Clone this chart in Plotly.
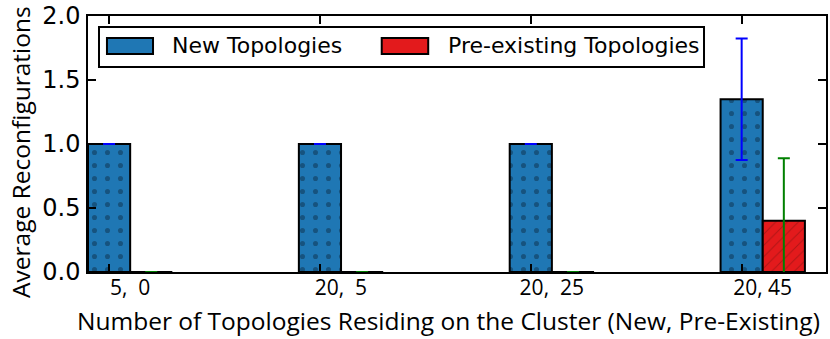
import numpy as np
import plotly.graph_objects as go

# cluster mix: (new, pre-existing) topologies
labels = ["5,\u00a0\u00a00", "20,\u00a0\u00a05", "20,\u00a0\u00a025", "20,\u00a045"]
new_avg = [1.0, 1.0, 1.0, 1.35]
new_err = [0.0, 0.0, 0.0, 0.475]
pre_avg = [0.0, 0.0, 0.0, 0.40]
pre_err = [0.0, 0.0, 0.0, 0.488]

width = 0.2
ind = np.arange(len(labels))

fig = go.Figure()
fig.add_trace(go.Bar(
    x=ind + width / 2, y=new_avg, width=width, name="New Topologies",
    marker=dict(color="#1f77b4", line=dict(color="black", width=2),
                pattern=dict(shape=".", fgcolor="#0d2f4a", size=13, solidity=0.12)),
    error_y=dict(type="data", array=new_err, color="blue", thickness=2, width=6),
    showlegend=False))
fig.add_trace(go.Bar(
    x=ind + 3 * width / 2, y=pre_avg, width=width, name="Pre-existing Topologies",
    marker=dict(color="#e31a1c", line=dict(color="black", width=2),
                pattern=dict(shape="/", fgcolor="#7a1010", size=8, solidity=0.12)),
    error_y=dict(type="data", array=pre_err, color="green", thickness=2, width=6),
    showlegend=False))

tick_font = dict(family="DejaVu Sans", size=24, color="black")
title_font = dict(family="Open Sans", size=24.5, color="black")

fig.update_layout(
    width=830, height=339,
    margin=dict(l=88, r=4, t=16, b=67),
    paper_bgcolor="white", plot_bgcolor="white",
    barmode="overlay",
    xaxis=dict(range=[0, 3.5], tickvals=ind + width / 2, ticktext=labels,
               ticks="inside", ticklen=8, tickwidth=1.5, tickcolor="black",
               ticklabelshift=21, ticklabelstandoff=-4,
               showline=True, linewidth=1.5, linecolor="black", mirror="ticks",
               showgrid=False, zeroline=False, automargin=False,
               tickfont=dict(family="Open Sans", size=21, color="black")),
    yaxis=dict(range=[0, 2.0], tickvals=[0, 0.5, 1.0, 1.5, 2.0], tickformat=".1f",
               ticks="inside", ticklen=8, tickwidth=1.5, tickcolor="black",
               showline=True, linewidth=1.5, linecolor="black", mirror="ticks",
               showgrid=False, zeroline=False, tickfont=tick_font, automargin=False,
               ticklabelstandoff=1),
)

# axis titles (placed like the original, slightly off-centre)
fig.add_annotation(x=0.489, y=-0.19, xref="paper", yref="paper", showarrow=False,
                   text="Number of Topologies Residing on the Cluster (New, Pre-Existing)",
                   xanchor="center", yanchor="middle", font=title_font)
fig.add_annotation(x=-0.0908, y=0.469, xref="paper", yref="paper", showarrow=False,
                   text="Average Reconfigurations", textangle=-90,
                   xanchor="center", yanchor="middle", font=title_font)

# legend drawn as a matplotlib-style box
fig.add_shape(type="rect", xref="paper", yref="paper", x0=0.0149, x1=0.8347, y0=0.801, y1=0.957,
              line=dict(color="black", width=2), fillcolor="white", layer="above")
fig.add_shape(type="rect", xref="paper", yref="paper", x0=0.0257, x1=0.0881, y0=0.852, y1=0.914,
              line=dict(color="black", width=2), fillcolor="#1f77b4", layer="above")
fig.add_shape(type="rect", xref="paper", yref="paper", x0=0.398, x1=0.461, y0=0.852, y1=0.914,
              line=dict(color="black", width=2), fillcolor="#e31a1c", layer="above")
for xp, txt in [(0.111, "New Topologies"), (0.485, "Pre-existing Topologies")]:
    fig.add_annotation(x=xp, y=0.883, xref="paper", yref="paper", text=txt, showarrow=False,
                       xanchor="left", yanchor="middle",
                       font=dict(family="DejaVu Sans", size=22, color="black"))

fig.write_html("out.html", config={"displayModeBar": False},
               post_script="document.body.style.margin='0';")
